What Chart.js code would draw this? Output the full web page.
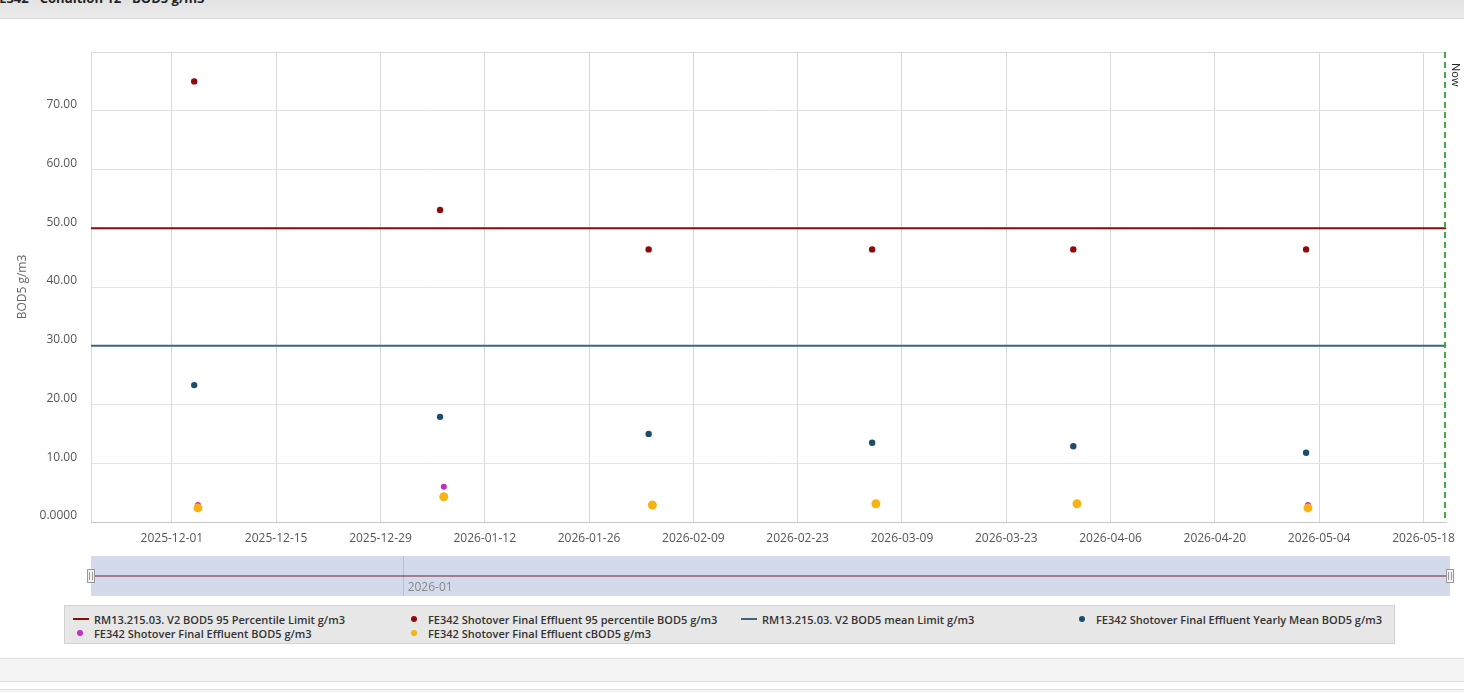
<!DOCTYPE html>
<html>
<head>
<meta charset="utf-8">
<script src="https://cdn.jsdelivr.net/npm/chart.js@4.4.1/dist/chart.umd.min.js"></script>
<style>
  html, body { margin: 0; padding: 0; }
  body { width: 1464px; height: 693px; overflow: hidden; background: #fff; position: relative; font-family: 'Open Sans', sans-serif; }
  #titlebar { position: absolute; left: 0; top: 0; width: 1464px; height: 18px; background: linear-gradient(#e2e2e2, #ececec); border-bottom: 1px solid #d9d9d9; overflow: hidden; }
  #titlebar span { position: absolute; left: -8px; top: -11px; font-size: 13px; font-weight: 700; color: #222; white-space: nowrap; }
  #mainWrap { position: absolute; left: 0; top: 20px; width: 1464px; height: 532px; }
  #navWrap { position: absolute; left: 0; top: 550px; width: 1464px; height: 50px; }
  #legend { position: absolute; left: 64px; top: 605px; width: 1331px; height: 39px; background: #e7e7e7; border: 1px solid #d2d2d2; display: grid; grid-template-columns: repeat(4, 334px); grid-auto-rows: 14px; padding: 6px 0 0 8px; box-sizing: border-box; }
  .item { display: flex; align-items: center; font-size: 11px; font-weight: 600; color: #333; white-space: nowrap; }
  .sym { width: 16px; height: 14px; position: relative; margin-right: 5px; flex: none; }
  .sym.line::after { content: ''; position: absolute; left: 0; right: 0; top: 6px; height: 2px; }
  .sym.dot::after { content: ''; position: absolute; left: 4px; top: 4px; width: 6px; height: 6px; border-radius: 50%; }
  .band1 { position: absolute; left: 0; top: 658px; width: 1464px; height: 22px; background: #f4f4f4; border-top: 1px solid #e2e2e2; border-bottom: 1px solid #e2e2e2; }
  .band2 { position: absolute; left: 0; top: 689px; width: 1464px; height: 4px; background: #f4f4f4; border-top: 1px solid #dedede; }
</style>
</head>
<body>
<div id="titlebar"><span>FE342 - Condition 12 - BOD5 g/m3</span></div>
<div id="mainWrap"><canvas id="mainChart"></canvas></div>
<div id="navWrap"><canvas id="navChart"></canvas></div>
<div id="legend"></div>
<div class="band1"></div>
<div class="band2"></div>

<script>
// --- data ---
const axisStart = '2025-11-20T03:30';
const axisEnd = '2026-05-21T02:00';
const nowDate = '2026-05-20T20:00';

const xTickLabels = ['2025-12-01', '2025-12-15', '2025-12-29', '2026-01-12', '2026-01-26', '2026-02-09',
  '2026-02-23', '2026-03-09', '2026-03-23', '2026-04-06', '2026-04-20', '2026-05-04', '2026-05-18'];
const yTicks = [0, 10, 20, 30, 40, 50, 60, 70, 80];
const yTickLabels = ['0.0000', '10.00', '20.00', '30.00', '40.00', '50.00', '60.00', '70.00', ''];
const navTickLabels = ['2026-01'];

const summaryDates = ['2025-12-04', '2026-01-06', '2026-02-03', '2026-03-05', '2026-04-01', '2026-05-02T06:00'];
const pct95Values = [75.0, 53.1, 46.4, 46.4, 46.4, 46.4];
const yearlyMeanValues = [23.3, 17.9, 15.0, 13.5, 12.9, 11.8];

const sampleDates = ['2025-12-04T12:00', '2026-01-06T12:00', '2026-02-03T12:00', '2026-03-05T12:00', '2026-04-01T12:00', '2026-05-02T12:00'];
const bod5Values = [2.9, 6.0, 2.9, 3.1, 3.1, 2.9];
const cbod5Values = [2.4, 4.3, 2.9, 3.1, 3.1, 2.4];

const pctLimit = 50;
const meanLimit = 30;

// ---
const ts = s => Date.parse(s.length <= 10 ? s + 'T00:00:00Z' : s + ':00Z');
const fmtDay = v => new Date(v).toISOString().slice(0, 10);
const pairs = (dates, vals) => dates.map((d, i) => ({ x: ts(d), y: vals[i] }));
const flat = v => [{ x: ts(axisStart), y: v }, { x: ts(axisEnd), y: v }];

const FONT = "'Open Sans', sans-serif";

const datasets = [
  { label: 'RM13.215.03. V2 BOD5 95 Percentile Limit g/m3', kind: 'line', data: flat(pctLimit),
    showLine: true, borderColor: '#8b0a0a', borderWidth: 2, pointRadius: 0, order: 2 },
  { label: 'FE342 Shotover Final Effluent 95 percentile BOD5 g/m3', kind: 'dot', data: pairs(summaryDates, pct95Values),
    backgroundColor: '#8f0b0b', borderWidth: 0, pointRadius: 3.2, order: 1 },
  { label: 'RM13.215.03. V2 BOD5 mean Limit g/m3', kind: 'line', data: flat(meanLimit),
    showLine: true, borderColor: '#3c6381', borderWidth: 2, pointRadius: 0, order: 2 },
  { label: 'FE342 Shotover Final Effluent Yearly Mean BOD5 g/m3', kind: 'dot', data: pairs(summaryDates, yearlyMeanValues),
    backgroundColor: '#1d4c6c', borderWidth: 0, pointRadius: 3.2, order: 1 },
  { label: 'FE342 Shotover Final Effluent BOD5 g/m3', kind: 'dot', data: pairs(sampleDates, bod5Values),
    backgroundColor: '#c52ec5', borderWidth: 0, pointRadius: 3, order: 1 },
  { label: 'FE342 Shotover Final Effluent cBOD5 g/m3', kind: 'dot', data: pairs(sampleDates, cbod5Values),
    backgroundColor: '#f6b414', borderWidth: 0, pointRadius: 4.5, order: 0 }
];

// plot frame + "Now" marker
const framePlugin = {
  id: 'frame',
  beforeDatasetsDraw(chart) {
    const { ctx, chartArea: a } = chart;
    ctx.save();
    ctx.strokeStyle = '#dadada';
    ctx.lineWidth = 1;
    ctx.beginPath();
    ctx.moveTo(a.left + 0.5, a.bottom);
    ctx.lineTo(a.left + 0.5, a.top + 0.5);
    ctx.lineTo(a.right, a.top + 0.5);
    ctx.stroke();
    ctx.restore();
  }
};

const nowPlugin = {
  id: 'nowLine',
  afterDatasetsDraw(chart) {
    const { ctx, chartArea: a, scales } = chart;
    const x = Math.round(scales.x.getPixelForValue(ts(nowDate)));
    ctx.save();
    ctx.strokeStyle = '#3fae3f';
    ctx.lineWidth = 2;
    ctx.setLineDash([6, 4]);
    ctx.beginPath();
    ctx.moveTo(x, a.top);
    ctx.lineTo(x, a.bottom);
    ctx.stroke();
    ctx.setLineDash([]);
    ctx.translate(x + 5, a.top + 11);
    ctx.rotate(Math.PI / 2);
    ctx.fillStyle = '#222';
    ctx.font = '11px ' + FONT;
    ctx.textBaseline = 'bottom';
    ctx.fillText('Now', 0, 0);
    ctx.restore();
  }
};

const mainChart = new Chart(document.getElementById('mainChart'), {
  type: 'scatter',
  data: { datasets },
  options: {
    responsive: true,
    maintainAspectRatio: false,
    animation: false,
    layout: { padding: { top: 32, right: 15, left: 0, bottom: 0 } },
    plugins: { legend: { display: false }, tooltip: { enabled: false } },
    scales: {
      x: {
        type: 'linear',
        min: ts(axisStart),
        max: ts(axisEnd),
        afterBuildTicks: s => { s.ticks = xTickLabels.map(d => ({ value: ts(d) })); },
        afterFit: s => { s.height = 30; },
        grid: { color: '#d9d9d9', drawTicks: false },
        border: { color: '#c6c6c6' },
        ticks: {
          autoSkip: false, maxRotation: 0, padding: 9,
          color: '#555', font: { family: FONT, size: 12 },
          callback: v => fmtDay(v)
        }
      },
      y: {
        min: 0,
        max: 80,
        afterBuildTicks: s => { s.ticks = yTicks.map(v => ({ value: v })); },
        afterFit: s => { s.width = 91; },
        grid: { color: '#e3e3e3', drawTicks: false },
        border: { display: false },
        title: { display: true, text: 'BOD5 g/m3', color: '#666', font: { family: FONT, size: 12 }, padding: { top: 15, bottom: 0 } },
        ticks: {
          padding: 14, labelOffset: -6,
          color: '#555', font: { family: FONT, size: 12 },
          callback: v => yTickLabels[yTicks.indexOf(v)]
        }
      }
    }
  },
  plugins: [framePlugin, nowPlugin]
});

// navigator strip under the plot
const navPlugin = {
  id: 'navDecor',
  beforeDraw(chart) {
    const { ctx, chartArea: a } = chart;
    ctx.save();
    ctx.fillStyle = '#d3daeb';
    ctx.fillRect(a.left, a.top, a.right - a.left, a.bottom - a.top);
    ctx.restore();
  },
  afterDraw(chart) {
    const { ctx, chartArea: a, scales } = chart;
    const mid = (a.top + a.bottom) / 2;
    // month labels inside the strip
    ctx.save();
    ctx.fillStyle = '#8a8a8a';
    ctx.font = '12px ' + FONT;
    ctx.textBaseline = 'middle';
    navTickLabels.forEach(m => {
      const x = scales.x.getPixelForValue(ts(m + '-01'));
      ctx.fillText(m, x + 4, a.bottom - 8);
    });
    ctx.restore();
    // handles
    [a.left, a.right].forEach(x => {
      const rx = Math.round(x);
      ctx.save();
      ctx.fillStyle = '#f2f2f2';
      ctx.strokeStyle = '#999';
      ctx.lineWidth = 1;
      ctx.fillRect(rx - 4, mid - 7, 8, 14);
      ctx.strokeRect(rx - 4 + 0.5, mid - 7 + 0.5, 7, 13);
      ctx.beginPath();
      ctx.moveTo(rx - 1.5, mid - 4); ctx.lineTo(rx - 1.5, mid + 4);
      ctx.moveTo(rx + 1.5, mid - 4); ctx.lineTo(rx + 1.5, mid + 4);
      ctx.stroke();
      ctx.restore();
    });
  }
};

const navChart = new Chart(document.getElementById('navChart'), {
  type: 'scatter',
  data: {
    datasets: [{ data: flat(pctLimit), showLine: true, borderColor: 'rgba(120,30,50,0.5)', borderWidth: 2, pointRadius: 0 }]
  },
  options: {
    responsive: true,
    maintainAspectRatio: false,
    animation: false,
    layout: { padding: { top: 6, right: 14, left: 91, bottom: 4 } },
    plugins: { legend: { display: false }, tooltip: { enabled: false } },
    scales: {
      x: {
        type: 'linear',
        min: ts(axisStart),
        max: ts(axisEnd),
        afterBuildTicks: s => { s.ticks = navTickLabels.map(m => ({ value: ts(m + '-01') })); },
        afterFit: s => { s.height = 0; },
        grid: { color: '#b9c1d3', drawTicks: false },
        border: { display: false },
        ticks: { display: false }
      },
      y: { display: false, min: 0, max: 100 }
    }
  },
  plugins: [navPlugin]
});

// legend built from the chart's datasets
const legendEl = document.getElementById('legend');
legendEl.innerHTML = mainChart.data.datasets.map(ds =>
  `<div class="item"><span class="sym ${ds.kind}"></span>${ds.label}</div>`).join('');
const css = document.createElement('style');
css.textContent = mainChart.data.datasets.map((ds, i) =>
  `#legend .item:nth-child(${i + 1}) .sym::after{background:${ds.kind === 'line' ? ds.borderColor : ds.backgroundColor};}`).join('\n');
document.head.appendChild(css);
</script>
</body>
</html>
